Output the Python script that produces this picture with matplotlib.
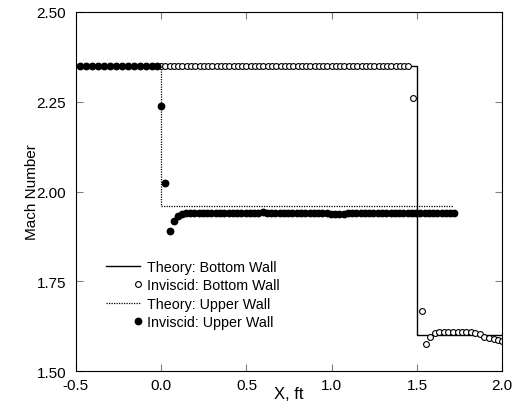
import numpy as np
import matplotlib
matplotlib.use("Agg")
from matplotlib import pyplot as plt
from matplotlib.ticker import FormatStrFormatter
from matplotlib.legend_handler import HandlerLine2DCompound

plt.rcParams['font.family'] = ['Liberation Sans', 'DejaVu Sans']

# theory lines (step profiles)
theory_bottom_x = [-0.5, 1.5, 1.5, 2.0]
theory_bottom_y = [2.35, 2.35, 1.60, 1.60]
theory_upper_x = [-0.5, 0.0, 0.0, 1.71]
theory_upper_y = [2.35, 2.35, 1.961, 1.961]

# inviscid, upper wall (filled)
upper_plateau_x = np.arange(0.12, 1.73, 0.025)
upper_x = [-0.477, -0.442, -0.407, -0.371, -0.336, -0.301, -0.266, -0.230,
           -0.195, -0.160, -0.124, -0.089, -0.054, -0.025,
           0.0, 0.02, 0.05, 0.074, 0.097] + list(upper_plateau_x)
upper_y = [2.35, 2.35, 2.35, 2.35, 2.35, 2.35, 2.35, 2.35,
           2.35, 2.35, 2.35, 2.35, 2.35, 2.35,
           2.237, 2.025, 1.890, 1.917, 1.932,
           1.938, 1.940, 1.941, 1.940, 1.939, 1.939, 1.940, 1.941, 1.941, 1.940,
           1.939, 1.940, 1.941, 1.941, 1.940, 1.940, 1.939, 1.940, 1.941, 1.942,
           1.941, 1.940, 1.940, 1.941, 1.941, 1.940, 1.939, 1.939, 1.940, 1.940,
           1.939, 1.939, 1.940, 1.940, 1.939, 1.938, 1.937, 1.937, 1.938, 1.939,
           1.940, 1.940, 1.940, 1.939, 1.939, 1.939, 1.940, 1.940, 1.939, 1.939,
           1.939, 1.939, 1.939, 1.939, 1.939, 1.939, 1.939, 1.939, 1.939, 1.939,
           1.939, 1.939, 1.939, 1.939, 1.939]

# inviscid, bottom wall (open)
bottom_flat_x = np.arange(0.0, 1.46, 0.025)
bottom_x = list(bottom_flat_x) + [
    1.474, 1.528, 1.552, 1.577, 1.603, 1.630, 1.657, 1.684, 1.711, 1.738,
    1.765, 1.790, 1.815, 1.842, 1.867, 1.894, 1.922, 1.949, 1.978, 2.0]
bottom_y = [2.35] * len(bottom_flat_x) + [
    2.26, 1.668, 1.574, 1.595, 1.605, 1.608, 1.609, 1.609, 1.609, 1.609,
    1.609, 1.609, 1.608, 1.607, 1.602, 1.595, 1.591, 1.588, 1.586, 1.585]


class MarkerAtRight(HandlerLine2DCompound):
    # put the legend marker at the right end of the handle
    def get_xdata(self, legend, xdescent, ydescent, width, height, fontsize):
        xdata, _ = super().get_xdata(legend, xdescent, ydescent, width,
                                     height, fontsize)
        return xdata, np.array([-xdescent + width * 0.93])


fig = plt.figure(figsize=(5.13, 4.14), dpi=100)
ax = fig.add_axes([0.148, 0.1014, 0.831, 0.8672])

ax.plot(theory_bottom_x, theory_bottom_y, color='black', lw=1.0,
        label='Theory: Bottom Wall')
ob, = ax.plot(bottom_x, bottom_y, 'o', mfc='white', mec='black', ms=4.2,
              mew=0.8, label='Inviscid: Bottom Wall')
ax.plot(theory_upper_x, theory_upper_y, color='black', lw=0.9, ls=(0, (1, 1)),
        label='Theory: Upper Wall')
fu, = ax.plot(upper_x, upper_y, 'o', mfc='black', mec='black', ms=4.6,
              label='Inviscid: Upper Wall')

ax.set_xlim(-0.5, 2.0)
ax.set_ylim(1.5, 2.5)
ax.set_xticks([-0.5, 0.0, 0.5, 1.0, 1.5, 2.0])
ax.set_yticks([1.5, 1.75, 2.0, 2.25, 2.5])
ax.xaxis.set_major_formatter(FormatStrFormatter('%.1f'))
ax.yaxis.set_major_formatter(FormatStrFormatter('%.2f'))
ax.tick_params(direction='in', top=True, right=True, length=5, labelsize=11,
               color='grey')
ax.tick_params(axis='x', pad=5)
ax.tick_params(axis='y', pad=7)
ax.set_xlabel('X, ft', fontsize=12, labelpad=-4)
ax.set_ylabel('Mach Number', fontsize=11, labelpad=-2)

ax.legend(loc='upper left', bbox_to_anchor=(0.07, 0.31), frameon=False,
          fontsize=10.3, handlelength=2.4, handletextpad=0.5,
          labelspacing=0.32, borderpad=0, borderaxespad=0,
          handler_map={ob: MarkerAtRight(), fu: MarkerAtRight()})

fig.savefig('out.png', dpi=100)
